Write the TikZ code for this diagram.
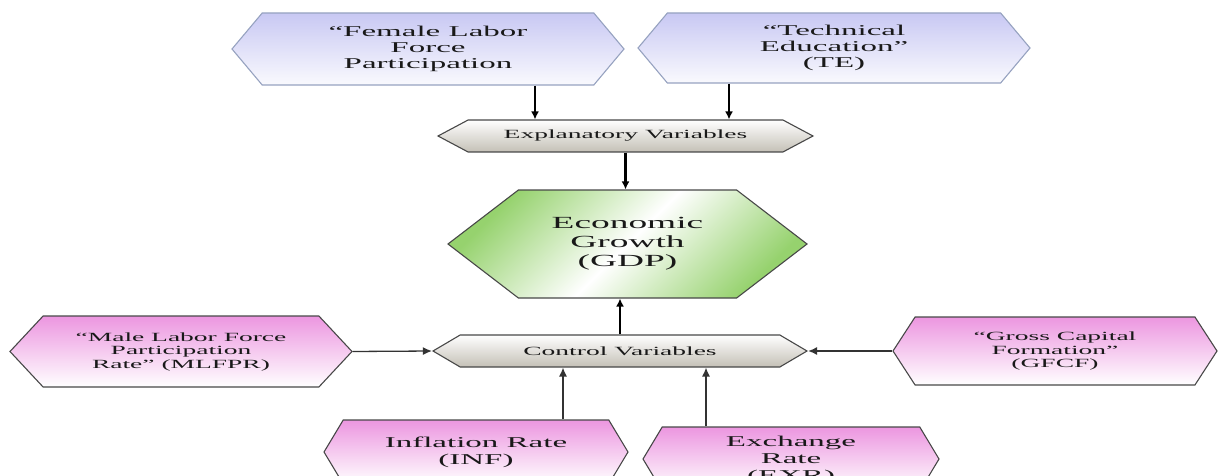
\documentclass[tikz,border=0pt]{standalone}
\usepackage{fontspec}
\newfontfamily\widefont[FakeStretch=2.2]{Liberation Serif}
\usepackage{tikz}
\usetikzlibrary{arrows.meta, shapes.symbols}
\usepackage{xcolor}
\definecolor{lavender}{RGB}{200,200,243}
\definecolor{lavenderedge}{RGB}{150,162,192}
\definecolor{pinkfill}{RGB}{236,150,224}
\definecolor{gdpgreen}{RGB}{150,210,110}
\definecolor{greybox}{RGB}{196,192,182}
\definecolor{edgegrey}{RGB}{72,72,72}

\begin{document}
\begin{tikzpicture}[x=1pt, y=-1pt,
    hexa/.style={shape=signal, signal to=west and east, signal from=nowhere,
      inner sep=0pt, align=center, text=black!90, draw=edgegrey, line width=1.1pt},
    factor/.style={hexa, top color=lavender, bottom color=white!90!lavender, draw=lavenderedge,
      font=\widefont\fontsize{15}{16}\selectfont},
    group/.style={hexa, top color=white, bottom color=greybox,
      font=\widefont\fontsize{12.5}{13}\selectfont},
    control/.style={hexa, top color=pinkfill, bottom color=white,
      font=\widefont\fontsize{12.5}{13.5}\selectfont},
    bigarrow/.style={-{Latex[length=8pt,width=8pt]}, line width=2.4pt, black},
    thinarrow/.style={-{Latex[length=9pt,width=8pt]}, line width=1.3pt, black!80}]
  \clip (0,0) rectangle (1218,476);
  % explanatory factors
  \node[factor, minimum width=392pt, minimum height=72pt, signal pointer angle=100]
    (flfp) at (428,49) {“Female Labor\\Force\\Participation};
  \node[factor, minimum width=392pt, minimum height=70pt, signal pointer angle=100]
    (te) at (834,48) {“Technical\\Education”\\(TE)};
  \node[group, minimum width=375pt, minimum height=32pt, signal pointer angle=56]
    (expl) at (625.5,136) {Explanatory Variables};
  % outcome
  \node[hexa, minimum width=359pt, minimum height=108pt, signal pointer angle=75,
      top color=gdpgreen, bottom color=gdpgreen, middle color=white, shading angle=45,
      font=\widefont\fontsize{17}{19}\selectfont]
    (gdp) at (627.5,244) {Economic\\Growth\\(GDP)};
  % control variables
  \node[group, minimum width=374pt, minimum height=32pt, signal pointer angle=61]
    (ctrl) at (620,351) {Control Variables};
  \node[control, minimum width=342pt, minimum height=71pt, signal pointer angle=94]
    (mlfpr) at (181,351.5) {“Male Labor Force\\Participation\\Rate” (MLFPR)};
  \node[control, minimum width=324pt, minimum height=68pt, signal pointer angle=114]
    (gfcf) at (1055,351) {“Gross Capital\\Formation”\\(GFCF)};
  \node[control, minimum width=304pt, minimum height=64pt, signal pointer angle=118,
      font=\widefont\fontsize{15}{17}\selectfont]
    (inf) at (476,452) {Inflation Rate\\(INF)};
  \node[control, minimum width=296pt, minimum height=64pt, signal pointer angle=118,
      font=\widefont\fontsize{15}{17}\selectfont, text depth=2pt]
    (exr) at (791,459) {Exchange\\Rate\\(EXR)};
  % arrows
  \coordinate (flfpout) at ([xshift=107pt]flfp.south);
  \coordinate (teout) at ([xshift=-105pt]te.south);
  \coordinate (infout) at ([xshift=87pt]inf.north);
  \coordinate (exrout) at ([xshift=-85pt]exr.north);
  \draw[bigarrow] (flfpout) -- (flfpout |- expl.north);
  \draw[bigarrow] (teout) -- (teout |- expl.north);
  \draw[bigarrow] (expl.south) -- (expl.south |- gdp.north);
  \draw[bigarrow] (ctrl.north) -- (ctrl.north |- gdp.south);
  \draw[thinarrow] (mlfpr.east) -- (ctrl.west);
  \draw[thinarrow] (gfcf.west) -- (ctrl.east);
  \draw[thinarrow] (infout) -- (infout |- ctrl.south);
  \draw[thinarrow] (exrout) -- (exrout |- ctrl.south);
\end{tikzpicture}
\end{document}
